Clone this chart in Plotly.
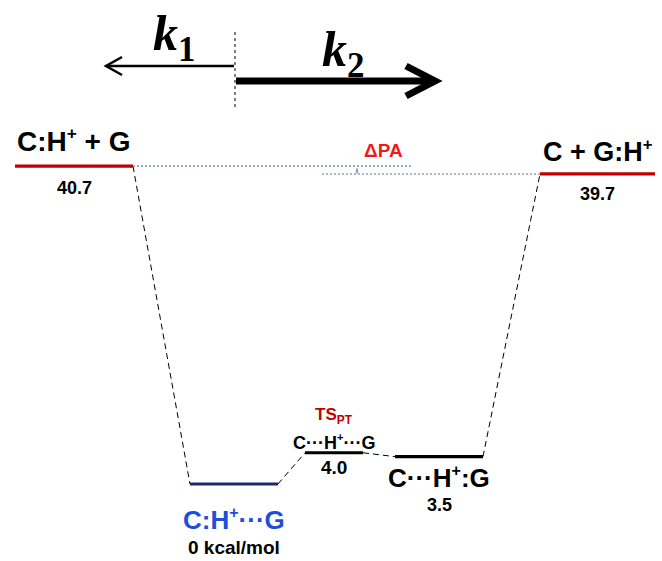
import plotly.graph_objects as go

# Energy profile for proton transfer between C and G (kcal/mol)
SUP = "<sup><span style='font-size:88%'>+</span></sup>"
species = [
    f"C:H{SUP} + G",
    f"C:H{SUP}···G",
    f"C···H{SUP}···G",
    f"C···H{SUP}:G",
    f"C + G:H{SUP}",
]
energies = [40.7, 0.0, 4.0, 3.5, 39.7]
energy_labels = ["40.7", "0 kcal/mol", "4.0", "3.5", "39.7"]
ts_label = "TS<sub>PT</sub>"
delta_label = "ΔPA"

# ---- layout helpers (x axis runs in pixel-like units across the canvas) ----
W, H = 662, 561
level_span = [(15, 133), (190, 278), (305, 363), (395, 483), (540, 655)]
level_color = ["#c00000", "#1b2a6b", "#000000", "#000000", "#c00000"]
name_color = ["#000000", "#1f4fd6", "#000000", "#000000", "#000000"]
name_size = [28, 26, 18, 26, 27]
name_shift = [26, -35, 11, -21, 23]
value_shift = [-22, -63, -15, -48, -20]
value_size = [18, 19, 19, 18, 18]
FONT = "Arial, Liberation Sans, sans-serif"
SERIF = "Liberation Serif, Times New Roman, serif"

px_per_unit = 7.81
zero_px = 484
y_range = [-(H - zero_px) / px_per_unit, zero_px / px_per_unit]


def py(y_pixel):
    """Paper y coordinate for a vertical pixel offset from the top."""
    return 1 - y_pixel / H


fig = go.Figure()

# dashed connectors between consecutive states
for i in range(len(energies) - 1):
    fig.add_trace(go.Scatter(
        x=[level_span[i][1], level_span[i + 1][0]],
        y=[energies[i], energies[i + 1]],
        mode="lines",
        line=dict(color="#000000", width=1, dash="6px,4px"),
        hoverinfo="skip", showlegend=False))

# proton-affinity reference lines
fig.add_trace(go.Scatter(
    x=[level_span[0][1], 413], y=[energies[0], energies[0]], mode="lines",
    line=dict(color="#8d9fc0", width=1.6, dash="2px,2px"),
    hoverinfo="skip", showlegend=False))
fig.add_trace(go.Scatter(
    x=[322, level_span[4][0]], y=[energies[4], energies[4]], mode="lines",
    line=dict(color="#8d9fc0", width=1.6, dash="2px,2px"),
    hoverinfo="skip", showlegend=False))

# energy levels
for (x0, x1), e, c in zip(level_span, energies, level_color):
    fig.add_trace(go.Scatter(
        x=[x0, x1], y=[e, e], mode="lines",
        line=dict(color=c, width=3.2),
        hoverinfo="skip", showlegend=False))

annotations = []
for i, (name, e, val) in enumerate(zip(species, energies, energy_labels)):
    xc = (level_span[i][0] + level_span[i][1]) / 2
    annotations.append(dict(
        x=xc, y=e, xref="x", yref="y", text=name, showarrow=False,
        yanchor="middle", yshift=name_shift[i],
        font=dict(family=FONT, size=name_size[i], color=name_color[i], weight="bold")))
    annotations.append(dict(
        x=xc, y=e, xref="x", yref="y", text=val, showarrow=False,
        yanchor="middle", yshift=value_shift[i],
        font=dict(family=FONT, size=value_size[i], color="#000000", weight="bold")))

# transition state tag
annotations.append(dict(
    x=(level_span[2][0] + level_span[2][1]) / 2, y=energies[2], xref="x", yref="y",
    text=ts_label, showarrow=False, yanchor="middle", yshift=37,
    font=dict(family=FONT, size=17, color="#c00000", weight="bold")))

# ΔPA label and double arrow
annotations.append(dict(
    x=383, y=energies[0], xref="x", yref="y", text=delta_label,
    showarrow=False, yanchor="middle", yshift=16,
    font=dict(family=FONT, size=19, color="#ee1c1c", weight="bold")))
annotations.append(dict(
    x=357, y=energies[4], ax=357, ay=energies[0], xref="x", yref="y",
    axref="x", ayref="y", text="", showarrow=True, arrowside="end+start",
    arrowhead=2, arrowsize=0.5, arrowwidth=1.2, arrowcolor="#8d9fc0"))

# rate constants
annotations.append(dict(
    x=174, y=py(3), xref="x", yref="paper", showarrow=False,
    text="k<sub><span style='font-style:normal'>1</span></sub>",
    font=dict(family=SERIF, size=50, color="#000000", weight="bold", style="italic")))
annotations.append(dict(
    x=343, y=py(19), xref="x", yref="paper", showarrow=False,
    text="k<sub><span style='font-style:normal'>2</span></sub>",
    font=dict(family=SERIF, size=50, color="#000000", weight="bold", style="italic")))

shapes = [
    # dividing line
    dict(type="line", xref="x", yref="paper", x0=235, x1=235, y0=py(32), y1=py(110),
         line=dict(color="#000000", width=1, dash="dot")),
    # k1 arrow (thin, pointing left)
    dict(type="line", xref="x", yref="paper", x0=234, x1=106, y0=py(66), y1=py(66),
         line=dict(color="#000000", width=2.5)),
    dict(type="path", xref="x", yref="paper",
         path=f"M 122,{py(57)} L 106,{py(66)} L 122,{py(75)}",
         line=dict(color="#000000", width=2.5)),
    # k2 arrow (thick, pointing right)
    dict(type="line", xref="x", yref="paper", x0=236, x1=434, y0=py(81), y1=py(81),
         line=dict(color="#000000", width=7)),
    dict(type="path", xref="x", yref="paper",
         path=f"M 406,{py(66)} L 435,{py(81)} L 406,{py(96)}",
         line=dict(color="#000000", width=7)),
]

fig.update_layout(
    width=W, height=H,
    margin=dict(l=0, r=0, t=0, b=0),
    paper_bgcolor="#ffffff", plot_bgcolor="#ffffff",
    xaxis=dict(range=[0, W], visible=False, fixedrange=True),
    yaxis=dict(range=y_range, visible=False, fixedrange=True),
    annotations=annotations, shapes=shapes,
    showlegend=False,
)

fig.write_html("out.html")
